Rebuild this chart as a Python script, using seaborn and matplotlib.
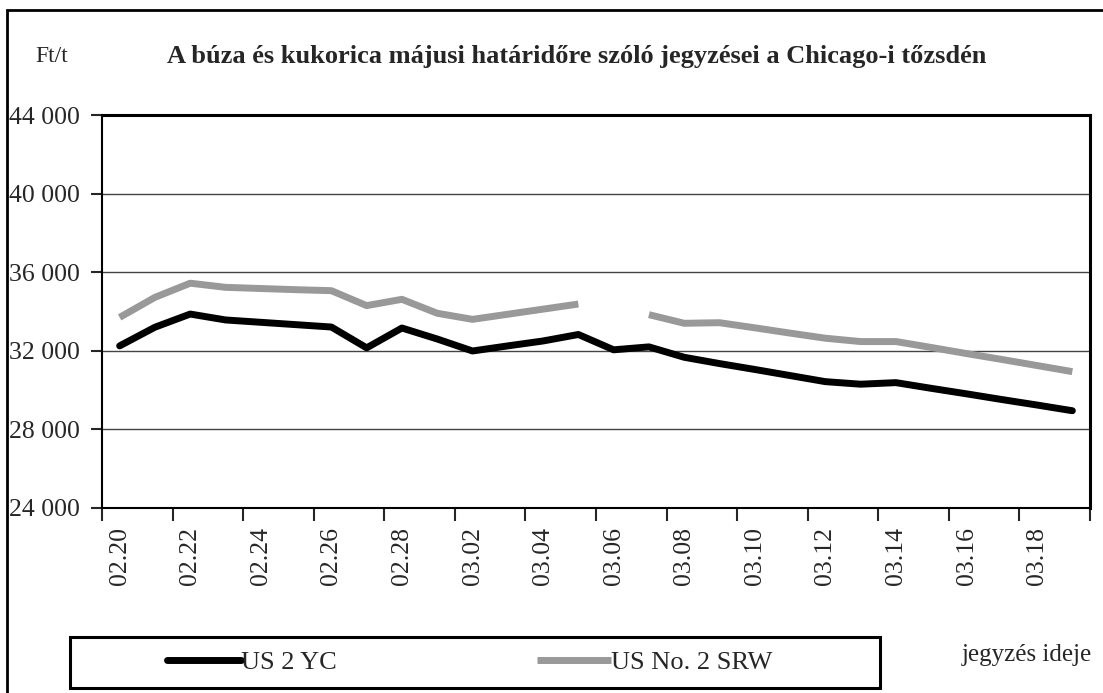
import numpy as np
import pandas as pd
import matplotlib
matplotlib.use("Agg")
import matplotlib.pyplot as plt
from matplotlib.lines import Line2D
from matplotlib.patches import Rectangle
from matplotlib.ticker import FuncFormatter
import seaborn as sns

# jegyzési napok (kategória tengely)
dates = ["02.20", "02.21", "02.22", "02.23", "02.24", "02.25", "02.26", "02.27",
         "02.28", "03.01", "03.02", "03.03", "03.04", "03.05", "03.06", "03.07",
         "03.08", "03.09", "03.10", "03.11", "03.12", "03.13", "03.14", "03.15",
         "03.16", "03.17", "03.18", "03.19"]

# Ft/t
us_2_yc = [32250, 33200, 33870, 33570, 33450, 33330, 33210, 32150,
           33160, 32600, 31990, 32250, 32500, 32830, 32050, 32200,
           31670, 31350, 31050, 30740, 30430, 30300, 30380, 30090,
           29810, 29520, 29240, 28950]
us_no2_srw = [33700, 34720, 35440, 35230, 35170, 35110, 35060, 34300,
              34620, 33910, 33600, 33860, 34120, 34380, np.nan, 33840,
              33400, 33430, 33170, 32900, 32640, 32470, 32470, 32170,
              31860, 31560, 31250, 30940]

series_names = ["US 2 YC", "US No. 2 SRW"]
title = "A búza és kukorica májusi határidőre szóló jegyzései a Chicago-i tőzsdén"
y_ticks = [24000, 28000, 32000, 36000, 40000, 44000]

sns.set_style("white")
plt.rcParams["font.family"] = ["Liberation Serif", "DejaVu Serif"]

W, H = 1103, 693
fig = plt.figure(figsize=(W / 100, H / 100), dpi=100)
ax = fig.add_axes([102 / W, 1 - 508 / H, (1090 - 102) / W, (508 - 115) / H])

idx = np.arange(len(dates))
yc_df = pd.DataFrame({"idx": idx, "value": us_2_yc})
srw_df = pd.DataFrame({"idx": idx, "value": us_no2_srw})
# a hiányzó nap szakadást okoz a búza vonalában
srw_df["seg"] = srw_df["value"].isna().cumsum()
srw_df = srw_df.dropna()

black = "#000000"
gray = "#999999"

sns.lineplot(data=srw_df, x="idx", y="value", units="seg", estimator=None,
             color=gray, linewidth=5, ax=ax, solid_capstyle="butt")
sns.lineplot(data=yc_df, x="idx", y="value", color=black, linewidth=5,
             ax=ax, solid_capstyle="round", solid_joinstyle="round")

ax.set_xlim(-0.5, len(dates) - 0.5)
ax.set_ylim(y_ticks[0], y_ticks[-1])
ax.set_xlabel("")
ax.set_ylabel("")

# y tengely
ax.set_yticks(y_ticks)
ax.yaxis.set_major_formatter(FuncFormatter(lambda v, p: f"{int(v):,}".replace(",", " ")))
ax.tick_params(axis="y", direction="out", length=8, width=1.5, pad=8,
               labelsize=18.5, left=True)
for yv in y_ticks[1:-1]:
    ax.axhline(yv, color="#444444", linewidth=1, zorder=0)

# x tengely: osztásjelek a kategóriák határán, feliratok középen
ax.set_xticks(np.arange(-0.5, len(dates), 2))
ax.set_xticklabels([])
ax.set_xticks(idx[::2], minor=True)
ax.set_xticklabels(dates[::2], minor=True, rotation=90, va="top", ha="center")
ax.tick_params(axis="x", which="major", direction="out", length=9, width=1.5, bottom=True)
ax.tick_params(axis="x", which="minor", length=0, pad=14, labelsize=18.5)

for side in ["left", "bottom", "top", "right"]:
    ax.spines[side].set_visible(True)
    ax.spines[side].set_color("black")
ax.spines["left"].set_linewidth(1.5)
ax.spines["bottom"].set_linewidth(1.5)
ax.spines["top"].set_linewidth(2.2)
ax.spines["right"].set_linewidth(2.2)

# címek
fig.text(35 / W, 1 - 57 / H, "Ft/t", fontsize=17, ha="left", va="center")
fig.text(577 / W, 1 - 57 / H, title, fontsize=19, fontweight="bold",
         ha="center", va="center")
fig.text(962 / W, 1 - 655 / H, "jegyzés ideje", fontsize=18, ha="left", va="center")

# külső keret
fig.patches.append(Rectangle((7 / W, -0.2), 1.2, 1.2 - 10 / H, transform=fig.transFigure,
                             fill=False, edgecolor="black", linewidth=2))
# jelmagyarázat kerete
fig.patches.append(Rectangle((70 / W, 1 - 688 / H), (880 - 70) / W, (688 - 637) / H,
                             transform=fig.transFigure, fill=False,
                             edgecolor="black", linewidth=2.2))

handles = [Line2D([], [], color=black, linewidth=5, solid_capstyle="round"),
           Line2D([], [], color=gray, linewidth=5, solid_capstyle="butt")]
fig.legend(handles, series_names, loc="center left",
           bbox_to_anchor=(167 / W, 1 - 662 / H), ncol=2, frameon=False,
           fontsize=19, handlelength=2.8, handletextpad=0.0,
           columnspacing=7.6, borderpad=0, borderaxespad=0)

fig.savefig("out.png", dpi=100)
